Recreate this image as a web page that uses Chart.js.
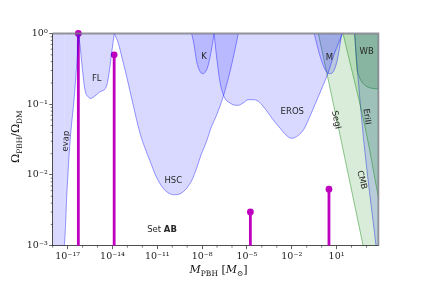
<!DOCTYPE html>
<html>
<head>
<meta charset="utf-8">
<script src="https://cdn.jsdelivr.net/npm/chart.js@4.4.1/dist/chart.umd.min.js"></script>
<style>
  html, body { margin: 0; padding: 0; background: #fff; }
  #wrap { width: 421px; height: 281px; }
</style>
</head>
<body>
<div id="wrap"><canvas id="c"></canvas></div>
<script>
// masses in solar masses, fractions are Omega_PBH / Omega_DM
const evapM = [1e-18, 5.75e-18, 9.1e-18, 1.44e-17, 1.96e-17, 2.67e-17, 3.6e-17, 4.7e-17, 5.3e-17];
const evapF = [1e-3, 1e-3, 6.1e-3, 0.0295, 0.060, 0.115, 0.259, 0.58, 1];

const flM = [5.3e-17, 6.7e-17, 9.1e-17, 1.45e-16, 2.3e-16, 3.5e-16, 6.8e-16, 1.47e-15, 3.7e-15, 5.0e-15, 6.8e-15, 9.3e-15, 1.33e-14];
const flF = [1, 0.69, 0.36, 0.159, 0.128, 0.121, 0.131, 0.150, 0.173, 0.22, 0.34, 0.58, 1];

const hscM = [1.33e-14, 2.46e-14, 4.4e-14, 9.0e-14, 2.37e-13, 7.0e-13, 1.5e-12, 3.3e-12, 8.2e-12, 2.5e-11, 6.1e-11, 1.53e-10,
              3.9e-10, 9.3e-10, 2.1e-9, 4.35e-9, 8.4e-9, 2.0e-8, 3.9e-8, 9.5e-8, 2.6e-7, 7.4e-7, 1.36e-6, 2.65e-6];
const hscF = [1, 0.73, 0.45, 0.245, 0.10, 0.0388, 0.024, 0.0157, 9.6e-3, 6.5e-3, 5.5e-3, 5.25e-3,
              5.5e-3, 6.5e-3, 8.5e-3, 0.0125, 0.0191, 0.030, 0.046, 0.071, 0.129, 0.29, 0.51, 1];

const kM = [2.0e-9, 2.9e-9, 4.35e-9, 6.7e-9, 1.1e-8, 1.82e-8, 2.6e-8, 4.4e-8, 6.3e-8];
const kF = [1, 0.69, 0.40, 0.30, 0.27, 0.295, 0.36, 0.62, 1];

const erosM = [6.3e-8, 9.9e-8, 1.58e-7, 2.6e-7, 4.0e-7, 7.4e-7, 1.36e-6, 2.65e-6, 5.5e-6, 1.24e-5, 2.55e-5, 5.8e-5, 1.19e-4,
               2.7e-4, 6.5e-4, 1.64e-3, 4.1e-3, 9.9e-3, 0.026, 0.066, 0.167, 0.42, 1.06, 2.67, 6.7, 14.6, 25];
const erosF = [1, 0.42, 0.206, 0.136, 0.115, 0.104, 0.0975, 0.0965, 0.104, 0.116, 0.116, 0.110, 0.094,
               0.075, 0.058, 0.046, 0.0367, 0.033, 0.036, 0.0446, 0.068, 0.107, 0.17, 0.276, 0.50, 0.76, 1];

const machoM = [0.32, 0.49, 0.78, 1.24, 1.97, 3.4, 5.8, 9.9, 15.7, 22];
const machoF = [1, 0.69, 0.48, 0.36, 0.295, 0.27, 0.285, 0.38, 0.62, 1];

const cmbM = [0.6, 17, 600, 6000];
const cmbF = [1, 0.0367, 1e-3, 1e-4];

const seg1M = [27, 1040, 5900, 12000];
const seg1F = [1, 0.0367, 5.2e-3, 2.5e-3];

const eri2M = [154, 617, 4365, 7940];
const eri2F = [1, 0.035, 1e-3, 3.4e-4];

const wbM = [171, 223, 318, 504, 1040, 2360, 6900];
const wbF = [1, 0.347, 0.25, 0.206, 0.178, 0.168, 0.164];

// benchmark "Set AB" masses and fractions
const setM = [5.2e-17, 1.3e-14, 1.7e-5, 3.1];
const setF = [1, 0.5, 3.0e-3, 6.3e-3];

// axis ticks
const xMajor = [1e-17, 1e-14, 1e-11, 1e-8, 1e-5, 1e-2, 1e1];
const xTickLabels = ['10⁻¹⁷', '10⁻¹⁴', '10⁻¹¹', '10⁻⁸', '10⁻⁵', '10⁻²', '10¹'];
const yMajor = [1e-3, 1e-2, 1e-1, 1];
const yTickLabels = ['10⁻³', '10⁻²', '10⁻¹', '10⁰'];

// region labels (anchored in data coordinates)
const labelText = ['evap', 'FL', 'HSC', 'K', 'EROS', 'M', 'SegI', 'EriII', 'CMB', 'WB'];
const labelM = [7.8e-18, 8.8e-16, 1.18e-10, 1.34e-8, 0.0109, 3.3, 9.2, 1040, 482, 1040];
const labelF = [0.030, 0.227, 8.2e-3, 0.465, 0.077, 0.46, 0.060, 0.0666, 8.5e-3, 0.55];
const labelAngle = [-86, 0, 0, 0, 0, 0, 78, 82, 76, 0];

const BLUE_FILL = 'rgba(0,0,255,0.15)';
const BLUE_LINE = 'rgba(0,0,255,0.5)';
const GREEN_FILL = 'rgba(0,128,0,0.15)';
const GREEN_LINE = 'rgba(0,128,0,0.55)';
const MAGENTA = '#bf00bf';

const pts = (ms, fs) => ms.map((m, i) => ({ x: m, y: fs[i] }));

function region(label, ms, fs, green) {
  return {
    label: label,
    data: pts(ms, fs),
    showLine: true,
    pointRadius: 0,
    borderWidth: 0.8,
    borderColor: green ? GREEN_LINE : BLUE_LINE,
    backgroundColor: green ? GREEN_FILL : BLUE_FILL,
    fill: 'end',
    cubicInterpolationMode: 'monotone'
  };
}

const datasets = [
  region('evap', evapM, evapF),
  region('FL', flM, flF),
  region('HSC', hscM, hscF),
  region('K', kM, kF),
  region('EROS', erosM, erosF),
  region('M', machoM, machoF),
  region('CMB', cmbM, cmbF, true),
  region('SegI', seg1M, seg1F, true),
  region('EriII', eri2M, eri2F),
  region('WB', wbM, wbF, true)
];
// hide the part of the evap edge that lies on the bottom axis
datasets[0].segment = { borderColor: c => c.p0DataIndex === 0 ? 'rgba(0,0,0,0)' : undefined };

setM.forEach((m, i) => {
  datasets.push({
    label: 'set' + i,
    data: [{ x: m, y: 1e-3 }, { x: m, y: setF[i] }],
    showLine: true,
    borderColor: MAGENTA,
    backgroundColor: MAGENTA,
    borderWidth: 2.8,
    pointRadius: [0, 3.4],
    pointBorderWidth: 0,
    fill: false,
    clip: false
  });
});

function rich(ctx, parts, x, y) {
  // parts: [text, size, italic, dy]
  let w = 0;
  parts.forEach(p => {
    ctx.font = (p[2] ? 'italic ' : '') + p[1] + 'px "DejaVu Serif"';
    w += ctx.measureText(p[0]).width;
  });
  let cx = x - w / 2;
  parts.forEach(p => {
    ctx.font = (p[2] ? 'italic ' : '') + p[1] + 'px "DejaVu Serif"';
    ctx.fillText(p[0], cx, y + (p[3] || 0));
    cx += ctx.measureText(p[0]).width;
  });
}

const decor = {
  id: 'decor',
  afterDraw(chart) {
    const ctx = chart.ctx;
    const xs = chart.scales.x, ys = chart.scales.y;
    const a = chart.chartArea;
    ctx.save();

    // minor ticks
    ctx.strokeStyle = '#222';
    ctx.lineWidth = 0.6;
    ctx.beginPath();
    for (let e = -18; e <= 3; e++) {
      const v = Math.pow(10, e);
      if (xMajor.some(t => Math.abs(Math.log10(t) - e) < 1e-6)) continue;
      const px = xs.getPixelForValue(v);
      ctx.moveTo(px, a.bottom);
      ctx.lineTo(px, a.bottom + 2);
    }
    for (let e = -3; e < 0; e++) {
      for (let k = 2; k <= 9; k++) {
        const py = ys.getPixelForValue(k * Math.pow(10, e));
        ctx.moveTo(a.left, py);
        ctx.lineTo(a.left - 2, py);
      }
    }
    ctx.stroke();

    // top and right frame
    ctx.strokeStyle = 'rgba(120,120,130,0.8)';
    ctx.lineWidth = 1.8;
    ctx.beginPath();
    ctx.moveTo(a.left, a.top);
    ctx.lineTo(a.right, a.top);
    ctx.lineTo(a.right, a.bottom);
    ctx.stroke();

    // region labels
    ctx.fillStyle = '#262626';
    ctx.font = '8.5px "DejaVu Sans"';
    ctx.textAlign = 'center';
    ctx.textBaseline = 'middle';
    labelText.forEach((t, i) => {
      const px = xs.getPixelForValue(labelM[i]);
      const py = ys.getPixelForValue(labelF[i]);
      ctx.save();
      ctx.translate(px, py);
      ctx.rotate(labelAngle[i] * Math.PI / 180);
      ctx.fillText(t, 0, 0);
      ctx.restore();
    });

    // "Set AB"
    const sx = xs.getPixelForValue(2.07e-11), sy = ys.getPixelForValue(1.66e-3);
    ctx.textAlign = 'left';
    ctx.font = '8.5px "DejaVu Sans"';
    const w1 = ctx.measureText('Set ').width;
    ctx.font = 'bold 8.5px "DejaVu Sans"';
    const w2 = ctx.measureText('AB').width;
    ctx.font = '8.5px "DejaVu Sans"';
    ctx.fillText('Set ', sx - (w1 + w2) / 2, sy);
    ctx.font = 'bold 8.5px "DejaVu Sans"';
    ctx.fillText('AB', sx - (w1 + w2) / 2 + w1, sy);

    // axis titles
    ctx.fillStyle = '#111';
    ctx.textBaseline = 'alphabetic';
    rich(ctx, [['M', 11, true], ['PBH', 7.5, false, 2.5], [' [', 11], ['M', 11, true], ['⊙', 7.5, false, 2.5], [']', 11]],
      (a.left + a.right) / 2 + 3, 273);
    ctx.save();
    ctx.translate(19, (a.top + a.bottom) / 2 - 3);
    ctx.rotate(-Math.PI / 2);
    rich(ctx, [['Ω', 11], ['PBH', 7.5, false, 2.5], ['/Ω', 11], ['DM', 7.5, false, 2.5]], 0, 0);
    ctx.restore();

    ctx.restore();
  }
};

new Chart(document.getElementById('c'), {
  type: 'scatter',
  data: { datasets: datasets },
  options: {
    responsive: true,
    maintainAspectRatio: false,
    animation: false,
    events: [],
    layout: { padding: { left: 0, right: 42.6, top: 33.5, bottom: 0 } },
    plugins: { legend: { display: false }, tooltip: { enabled: false } },
    scales: {
      x: {
        type: 'logarithmic',
        min: 1e-18,
        max: Math.pow(10, 3.8),
        z: 1,
        afterBuildTicks: s => { s.ticks = xMajor.map(v => ({ value: v })); },
        afterFit: s => { s.height = 35.3; },
        ticks: {
          autoSkip: false, maxRotation: 0, padding: 2, color: '#222',
          font: { family: 'DejaVu Serif', size: 9.5 },
          callback: (v, i) => xTickLabels[i]
        },
        grid: { drawOnChartArea: false, tickLength: 3.5, tickColor: '#222', tickWidth: 0.7 },
        border: { color: '#222', width: 0.8 }
      },
      y: {
        type: 'logarithmic',
        min: 1e-3,
        max: 1,
        z: 1,
        afterBuildTicks: s => { s.ticks = yMajor.map(v => ({ value: v })); },
        afterFit: s => { s.width = 52.7; },
        ticks: {
          autoSkip: false, padding: 1.5, color: '#222',
          font: { family: 'DejaVu Serif', size: 9.5 },
          callback: (v, i) => yTickLabels[i]
        },
        grid: { drawOnChartArea: false, tickLength: 3.5, tickColor: '#222', tickWidth: 0.7 },
        border: { color: '#222', width: 0.8 }
      }
    }
  },
  plugins: [decor]
});
</script>
</body>
</html>
